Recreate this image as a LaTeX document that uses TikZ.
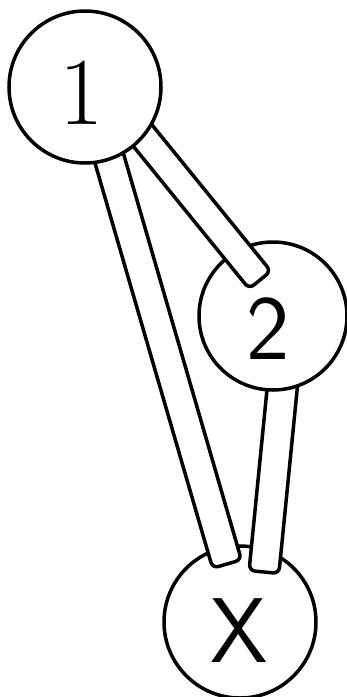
\documentclass[tikz,border=0pt]{standalone}
\usepackage{fontspec}
\usetikzlibrary{calc}
\begin{document}
\begin{tikzpicture}[x=1pt,y=-1pt,
  ball/.style={circle, draw, line width=3.5pt, fill=white, inner sep=0pt},
  numtext/.style={inner sep=0pt, font=\sffamily\fontsize{92}{92}\selectfont},
  bar/.style={draw, line width=3.5pt, fill=white, rounded corners=6pt, line join=round}]
\useasboundingbox (0,0) rectangle (346,697);

% bottom ball X
\node[ball, minimum size=152pt] (cx) at (240,622) {};
\node[numtext] (tx) at ($(cx)+(-1,9)$) {X};

% bar 1 -> X
\coordinate (bBs) at (101,130);
\coordinate (bBe) at (227,564);
\draw[bar] ($(bBs)!15pt!90:(bBe)$) -- ($(bBe)!15pt!-90:(bBs)$) -- ($(bBe)!15pt!90:(bBs)$) -- ($(bBs)!15pt!-90:(bBe)$) -- cycle;

% bar 2 -> X
\coordinate (bCs) at (285,360);
\coordinate (bCe) at (264,572);
\draw[bar] ($(bCs)!15pt!90:(bCe)$) -- ($(bCe)!15pt!-90:(bCs)$) -- ($(bCe)!15pt!90:(bCs)$) -- ($(bCs)!15pt!-90:(bCe)$) -- cycle;

% ball 2
\node[ball, minimum size=148pt] (c2) at (273,316) {};
\node[numtext] (t2) at ($(c2)+(-5,13)$) {2};

% bar 1 -> 2
\coordinate (bAs) at (130,120);
\coordinate (bAe) at (260,280);
\draw[bar] ($(bAs)!14pt!90:(bAe)$) -- ($(bAe)!14pt!-90:(bAs)$) -- ($(bAe)!14pt!90:(bAs)$) -- ($(bAs)!14pt!-90:(bAe)$) -- cycle;

% ball 1
\node[ball, minimum size=152pt] (c1) at (85,87) {};
\node[numtext, font=\rmfamily\fontsize{96}{96}\selectfont] (t1) at ($(c1)+(-3,6)$) {1};
\end{tikzpicture}
\end{document}
